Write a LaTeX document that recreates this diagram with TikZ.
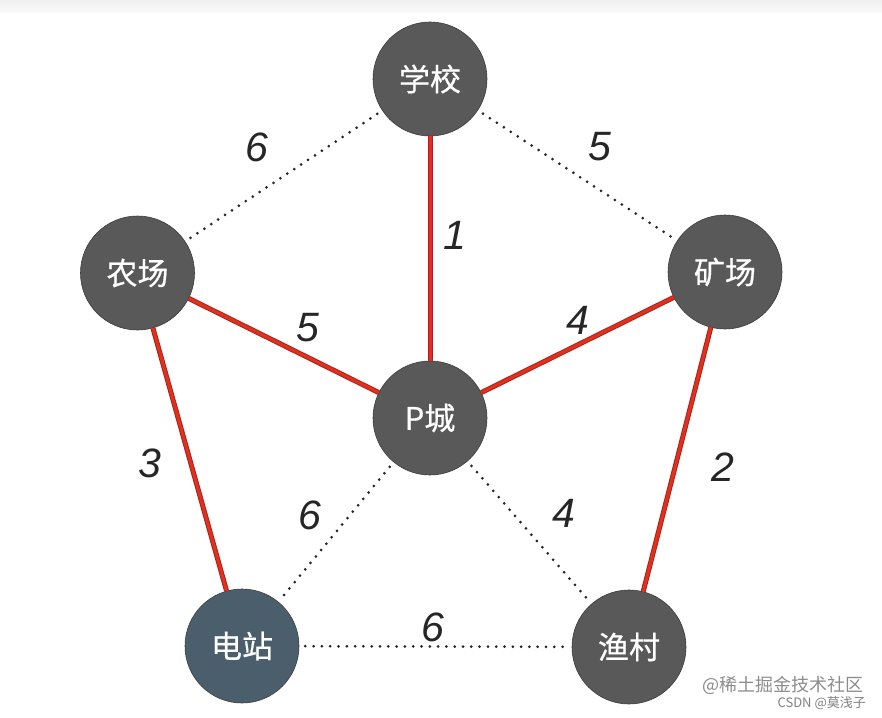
\documentclass[tikz,border=0pt]{standalone}
\usepackage{fontspec}
\newfontfamily\cjk{Noto Sans CJK SC}[FakeBold=0.6]
\newfontfamily\cjkw{Noto Sans CJK SC}
\newfontfamily\numf{Liberation Sans}
\definecolor{nodegray}{HTML}{595959}
\definecolor{nodeblue}{HTML}{4B5E6C}
\definecolor{nodeedge}{HTML}{3C3C3C}
\definecolor{redline}{HTML}{E3301E}
\definecolor{reddark}{HTML}{A8241A}
\begin{document}
\begin{tikzpicture}[x=1pt,y=-1pt,
  city/.style={circle, minimum size=114pt, inner sep=0pt, fill=nodegray, draw=nodeedge, line width=0.6pt, text=white, font=\cjk\fontsize{31}{31}\selectfont},
  mst/.style={draw=reddark, line width=5pt, postaction={draw=redline, line width=3pt}},
  dots/.style={draw=black!85, line width=3pt, line cap=round, dash pattern=on 0pt off 8.3pt, shorten <=6pt, shorten >=6pt},
  wt/.style={inner sep=0pt, font=\numf\itshape\fontsize{41}{41}\selectfont, text=black!85}
]
\useasboundingbox (0,0) rectangle (882,717);
\shade[top color=black!6, bottom color=black!2] (0,0) rectangle (882,13);

\node[city] (school) at (430,79) {学校};
\node[city] (farm) at (137.5,273) {农场};
\node[city] (mine) at (725,272) {矿场};
\node[city] (pc) at (430,418) {P城};
\node[city, fill=nodeblue] (power) at (242,646) {电站};
\node[city] (fish) at (629,647) {渔村};

% dotted edges
\path[dots] (school) -- node[wt, pos=0.5, shift={(-26.5,-29)}] (w1) {6} (farm);
\path[dots] (school) -- node[wt, pos=0.5, shift={(22.5,-28.5)}] (w2) {5} (mine);
\path[dots] (pc) -- node[wt, pos=0.5, shift={(-26,-17)}] (w3) {6} (power);
\path[dots] (pc) -- node[wt, pos=0.5, shift={(34.5,-19.5)}] (w4) {4} (fish);
\path[dots] (power) -- node[wt, pos=0.5, shift={(-2.5,-19.5)}] (w5) {6} (fish);

% red (chosen) edges
\path[mst] (school) -- node[wt, pos=0.5, shift={(25,-13.5)}] (w6) {1} (pc);
\path[mst] (farm) -- node[wt, pos=0.5, shift={(24.5,-17.5)}] (w7) {5} (pc);
\path[mst] (mine) -- node[wt, pos=0.5, shift={(0.5,-25)}] (w8) {4} (pc);
\path[mst] (farm) -- node[wt, pos=0.5, shift={(-39.5,3.5)}] (w9) {3} (power);
\path[mst] (mine) -- node[wt, pos=0.5, shift={(46,7.5)}] (w10) {2} (fish);

% watermark
\node[anchor=east, inner sep=0pt, text=black!45, font=\cjkw\fontsize{18}{18}\selectfont] (wm1) at (864,685) {@稀土掘金技术社区};
\node[anchor=east, inner sep=0pt, text=black!50, font=\cjkw\fontsize{13}{13}\selectfont] (wm2) at (866,703) {CSDN @莫浅子};
\end{tikzpicture}
\end{document}
